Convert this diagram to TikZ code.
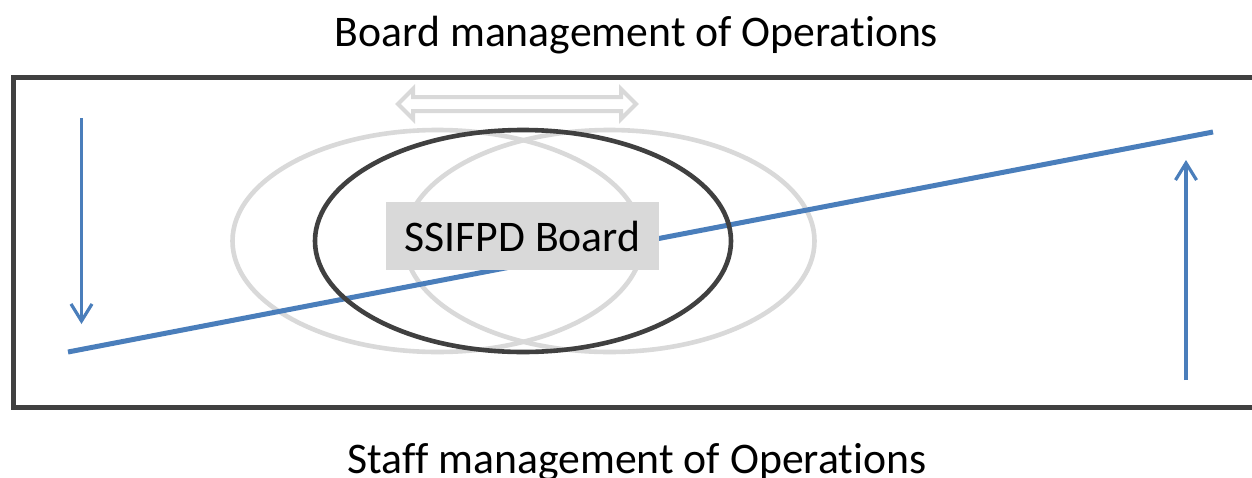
\documentclass[tikz,border=0pt]{standalone}
\usepackage{fontspec}
\setmainfont{Carlito}[Ligatures={NoCommon}]
\usetikzlibrary{arrows.meta}
\definecolor{frame}{HTML}{404040}
\definecolor{lgray}{HTML}{D9D9D9}
\definecolor{blu}{HTML}{4A7EBB}
\tikzset{
  label/.style={font=\fontsize{43.7}{50}\selectfont, text=black, inner sep=0pt},
  grayell/.style={draw=lgray, line width=4.6pt},
  darkell/.style={draw=frame, line width=4.6pt},
  bluearrow/.style={draw=blu, line width=3.2pt, -{Straight Barb[length=17pt,width=21pt,line width=3.2pt]}},
  bluline/.style={draw=blu, line width=5pt},
  boardbox/.style={fill=lgray, minimum width=273pt, minimum height=68pt, inner sep=0pt, font=\fontsize{43.7}{50}\selectfont}
}
\begin{document}
\begin{tikzpicture}[x=1pt,y=-1pt]
\useasboundingbox (0,0) rectangle (1252,477);
\clip (0,0) rectangle (1252,477);
\fill[white] (0,0) rectangle (1252,477);
% titles
\node[label, anchor=base] (top) at (636.5,46) {Board management of Operations};
\node[label, anchor=base] (bot) at (637,473) {Staff management of Operations};
% frame
\draw[frame, line width=5pt] (13,77) rectangle (1262,407);
% ellipses
\draw[grayell] (437.5,241) ellipse [x radius=205, y radius=111];
\draw[grayell] (609.5,241) ellipse [x radius=205, y radius=111];
% blue line
\coordinate (l1) at (68,352);
\coordinate (l2) at (1213,132);
\draw[bluline] (l1) -- (l2);
\draw[darkell] (523,241) ellipse [x radius=208, y radius=111];
% board box
\node[boardbox] (board) at (522.5,236) {SSIFPD Board};
% blue arrows
\coordinate (a1) at (81.5,118);
\coordinate (a2) at (81.5,324);
\draw[bluearrow] (a1) -- (a2);
\coordinate (b1) at (1186,380);
\coordinate (b2) at (1186,160);
\draw[bluearrow] (b1) -- (b2);
% double arrow
\draw[draw=lgray, fill=white, line width=4pt, line join=miter]
  (398,104) -- (413,89) -- (413,97) -- (621,97) -- (621,89) -- (636,104)
  -- (621,119) -- (621,111) -- (413,111) -- (413,119) -- cycle;
\end{tikzpicture}
\end{document}
